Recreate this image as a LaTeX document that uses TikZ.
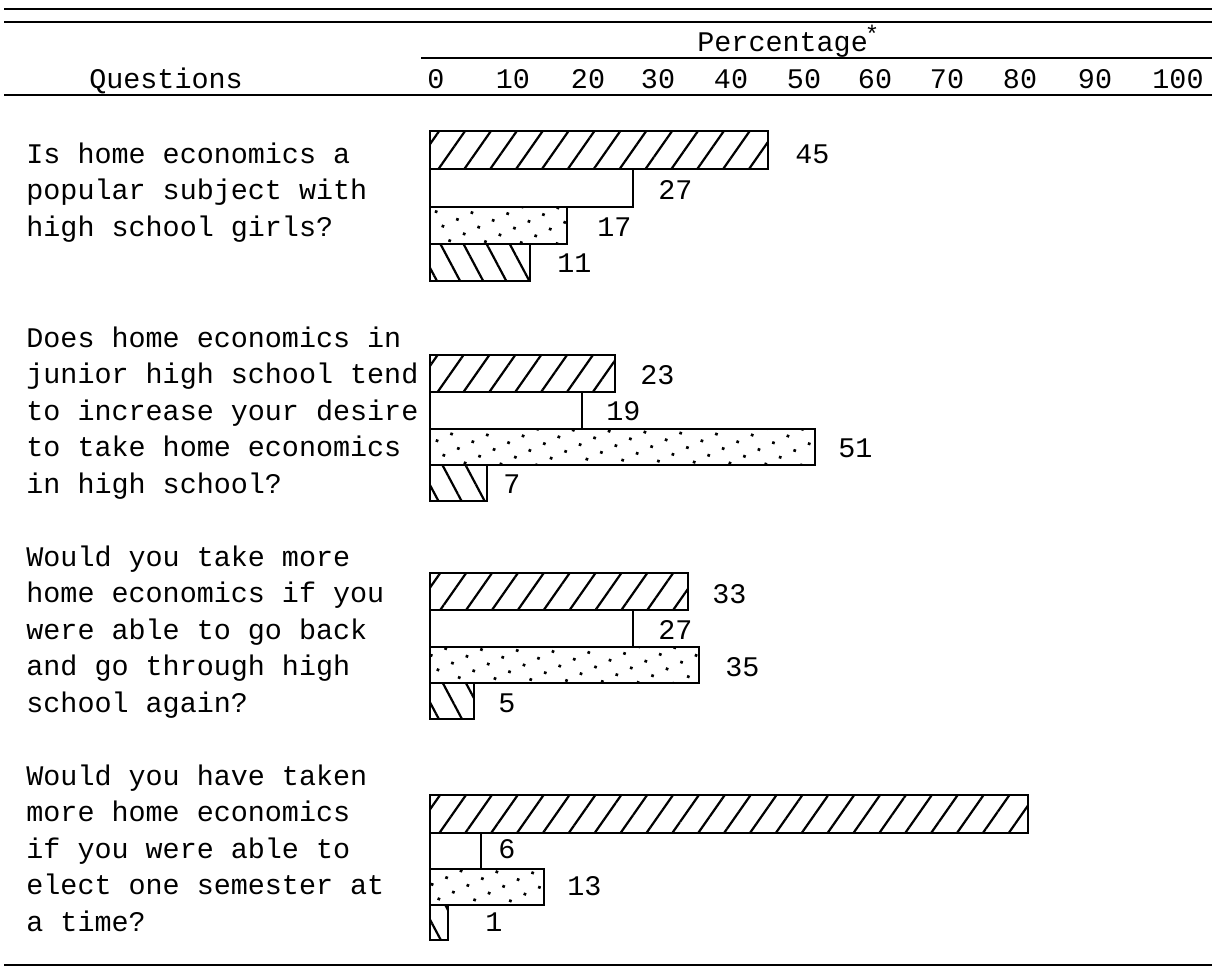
\documentclass[tikz,border=0pt]{standalone}
\usepackage{fontspec}
\setmainfont{Liberation Mono}
\usetikzlibrary{patterns.meta}

\begin{document}
\begin{tikzpicture}[%
            x=0.5pt, y=-0.5pt,
            every node/.style={font=\fontsize{14.2}{18.25}\selectfont, inner sep=0pt},
            rule/.style={line width=1pt},
            bar/.style={draw, line width=1.3pt},
            slash/.style={pattern={Lines[angle=55,distance=10.6pt,line width=1.1pt]}},
            blank/.style={fill=white},
            dots/.style={pattern={Dots[angle=25,distance=8pt,radius=0.95pt]}},
            back/.style={pattern={Lines[angle=-62,distance=10.2pt,line width=1.1pt]}},
            question/.style={anchor=base west, align=left}
    ]
    \useasboundingbox (0,0) rectangle (1212,980);

    \draw[rule] (4,9) -- (1212,9) (4,22) -- (1212,22);
    \draw[rule] (421,58) -- (1212,58);
    \draw[line width=1.4pt] (4,95) -- (1212,95);
    \draw[line width=1.4pt] (4,965) -- (1212,965);

    \node [anchor=base west] (pct) at (697,51)
        {Percentage\kern-0.1em\raisebox{0.55ex}{\fontsize{12}{12}\selectfont*}};
    \node [anchor=base] (qst) at (166,88) {Questions};
    \foreach \t/\x in
        {0/436,10/513,20/588,30/658,40/731,50/804,60/875,70/947,80/1020,90/1095,100/1178}
        \node [anchor=base] (t\t) at (\x,88) {\t};

    % base anchor sits on the last line
    \node [question] (q1) at (26,236) {%
        Is home economics a\\
        popular subject with\\
        high school girls?};
    \node [question] (q2) at (26,493) {%
        Does home economics in\\
        junior high school tend\\
        to increase your desire\\
        to take home economics\\
        in high school?};
    \node [question] (q3) at (26,712) {%
        Would you take more\\
        home economics if you\\
        were able to go back\\
        and go through high\\
        school again?};
    \node [question] (q4) at (26,931) {%
        Would you have taken\\
        more home economics\\
        if you were able to\\
        elect one semester at\\
        a time?};

    \foreach \g/\r/\top/\bot/\e/\sty/\v/\lx/\base in
        {1/1/131/169/768/slash/45/795/163, 1/2/169/207/633/blank/27/658/199,
         1/3/207/244/567/dots/17/597/236,  1/4/244/281/530/back/11/557/272,
         2/1/355/392/615/slash/23/640/384, 2/2/392/429/582/blank/19/606/420,
         2/3/429/465/815/dots/51/838/457,  2/4/465/501/487/back/7/503/493,
         3/1/573/610/688/slash/33/712/603, 3/2/610/647/633/blank/27/658/639,
         3/3/647/683/699/dots/35/725/676,  3/4/683/719/474/back/5/498/712,
         4/1/795/833/1028/slash//1050/822, 4/2/833/869/481/blank/6/498/858,
         4/3/869/905/544/dots/13/567/895,  4/4/905/940/448/back/1/485/931}
    {
        \draw [bar,\sty] (430,\top) rectangle (\e,\bot);
        \node [anchor=base west] (v\g\r) at (\lx,\base) {\v};
    }
\end{tikzpicture}
\end{document}
